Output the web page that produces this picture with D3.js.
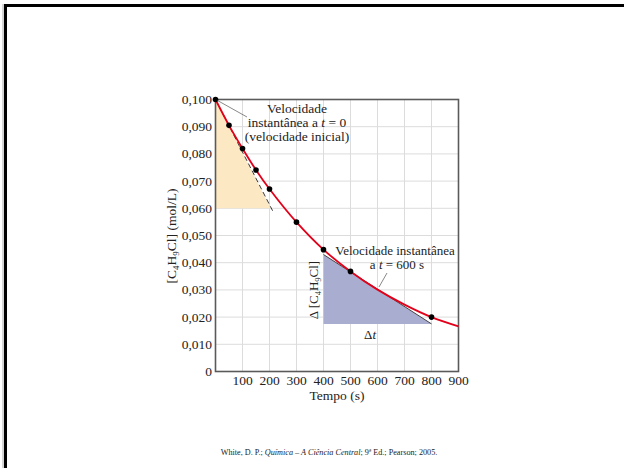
<!DOCTYPE html>
<html>
<head>
<meta charset="utf-8">
<script src="https://cdn.jsdelivr.net/npm/d3@7"></script>
<style>
  body { margin: 0; background: #fff; }
  svg { display: block; font-family: "Liberation Serif", "DejaVu Serif", serif; }
</style>
</head>
<body>
<div id="chart"></div>
<script>
//====================== Data ======================
// measured points (s, mol/L)
const times = [0, 50, 100, 150, 200, 300, 400, 500, 800];
const concs = [0.1000, 0.0905, 0.0820, 0.0741, 0.0671, 0.0549, 0.0448, 0.0368, 0.0200];

// fitted red curve
const curveTimes = [0, 50, 100, 150, 200, 300, 400, 500, 600, 700, 800, 900];
const curveConcs = [0.1000, 0.0905, 0.0820, 0.0741, 0.0671, 0.0549, 0.0448, 0.0368, 0.0301, 0.0246, 0.0200, 0.0166];

// tangent triangles [t, c]
const tangent0 = [[0, 0.1000], [0, 0.0600], [204, 0.0600]];
const tangent0Line = [[0, 0.1000], [212, 0.0590]];
const tangent600 = [[400, 0.0430], [400, 0.0175], [800, 0.0175]];
const tangent600Line = [[400, 0.0430], [800, 0.0175]];

const xTicks = [100, 200, 300, 400, 500, 600, 700, 800, 900];
const yTicks = [0, 0.01, 0.02, 0.03, 0.04, 0.05, 0.06, 0.07, 0.08, 0.09, 0.1];
const xGrid = [100, 200, 300, 400, 500, 600, 700, 800];

//====================== Chart ======================
const w = 624, h = 468;

const svg = d3.select("#chart").append("svg")
  .attr("width", w)
  .attr("height", h);

// slide frame
svg.append("line").attr("x1", 3).attr("y1", 4).attr("x2", 3).attr("y2", h)
  .attr("stroke", "#aaa").attr("stroke-width", 1);
svg.append("path")
  .attr("d", "M5.5," + h + " V5.5 H" + w)
  .attr("fill", "none").attr("stroke", "#000").attr("stroke-width", 3);

const x = d3.scaleLinear().domain([0, 900]).range([215.5, 458.5]);
const y = d3.scaleLinear().domain([0, 0.1]).range([371.5, 99.5]);

// grid
svg.append("g").selectAll("line").data(xGrid).join("line")
  .attr("x1", d => x(d)).attr("x2", d => x(d))
  .attr("y1", y(0)).attr("y2", y(0.1))
  .attr("stroke", "#dcdcdc").attr("stroke-width", 1);
svg.append("g").selectAll("line").data(yTicks.slice(1, -1)).join("line")
  .attr("x1", x(0)).attr("x2", x(900))
  .attr("y1", d => y(d)).attr("y2", d => y(d))
  .attr("stroke", "#dcdcdc").attr("stroke-width", 1);

const line = d3.line().x(d => x(d[0])).y(d => y(d[1]));

// shaded triangles
svg.append("path").attr("d", line(tangent0) + "Z").attr("fill", "#fce8c2");
svg.append("path").attr("d", line(tangent600) + "Z").attr("fill", "#a9aed0");

// tangent lines
svg.append("path").attr("d", line(tangent0Line))
  .attr("stroke", "#222").attr("stroke-width", 0.9)
  .attr("stroke-dasharray", "5,3").attr("fill", "none");
svg.append("path").attr("d", line(tangent600Line))
  .attr("stroke", "#444").attr("stroke-width", 1).attr("fill", "none");

// axes box
svg.append("rect")
  .attr("x", x(0)).attr("y", y(0.1))
  .attr("width", x(900) - x(0)).attr("height", y(0) - y(0.1))
  .attr("fill", "none").attr("stroke", "#5a5a5a").attr("stroke-width", 1.6);

// red curve
const curvePts = curveTimes.map((t, i) => [t, curveConcs[i]]);
svg.append("path")
  .attr("d", d3.line().x(d => x(d[0])).y(d => y(d[1])).curve(d3.curveCatmullRom)(curvePts))
  .attr("fill", "none").attr("stroke", "#e2001a").attr("stroke-width", 1.8);

// data points
svg.append("g").selectAll("circle").data(times).join("circle")
  .attr("cx", d => x(d))
  .attr("cy", (d, i) => y(concs[i]))
  .attr("r", 2.8)
  .attr("fill", "#000");

// tick labels
const fmt = d => d === 0 ? "0" : d.toFixed(3).replace(".", ",");
svg.append("g").selectAll("text").data(yTicks).join("text")
  .attr("x", 212).attr("y", d => y(d) + 4.5)
  .attr("text-anchor", "end")
  .attr("font-size", 13.5)
  .attr("fill", "#222")
  .text(fmt);
svg.append("g").selectAll("text").data(xTicks).join("text")
  .attr("x", d => x(d)).attr("y", 385)
  .attr("text-anchor", "middle")
  .attr("font-size", 13.5)
  .attr("fill", "#222")
  .text(d => d);

// axis titles
svg.append("text").attr("x", 337).attr("y", 400)
  .attr("text-anchor", "middle").attr("font-size", 13.5).attr("fill", "#222")
  .text("Tempo (s)");

const yTitle = svg.append("text")
  .attr("transform", "translate(176,236) rotate(-90)")
  .attr("text-anchor", "middle").attr("font-size", 13.5).attr("fill", "#222");
yTitle.append("tspan").text("[C");
yTitle.append("tspan").attr("font-size", 9).attr("dy", 3).text("4");
yTitle.append("tspan").attr("dy", -3).text("H");
yTitle.append("tspan").attr("font-size", 9).attr("dy", 3).text("9");
yTitle.append("tspan").attr("dy", -3).text("Cl] (mol/L)");

// annotation at t = 0
const ann1 = svg.append("g").attr("font-size", 13.5).attr("fill", "#222").attr("text-anchor", "middle");
ann1.append("text").attr("x", 297).attr("y", 113).text("Velocidade");
const a1 = ann1.append("text").attr("x", 297).attr("y", 127);
a1.append("tspan").text("instantânea a ");
a1.append("tspan").attr("font-style", "italic").text("t");
a1.append("tspan").text(" = 0");
ann1.append("text").attr("x", 297).attr("y", 141).text("(velocidade inicial)");
svg.append("line").attr("x1", x(0) + 2).attr("y1", y(0.1) + 1)
  .attr("x2", 247).attr("y2", 117)
  .attr("stroke", "#555").attr("stroke-width", 0.7);

// annotation at t = 600
const ann2 = svg.append("g").attr("font-size", 13).attr("fill", "#222").attr("text-anchor", "middle");
ann2.append("text").attr("x", 395).attr("y", 255).text("Velocidade instantânea");
const a2 = ann2.append("text").attr("x", 397).attr("y", 269);
a2.append("tspan").text("a ");
a2.append("tspan").attr("font-style", "italic").text("t");
a2.append("tspan").text(" = 600 s");
svg.append("line").attr("x1", 387).attr("y1", 273)
  .attr("x2", 379).attr("y2", 287)
  .attr("stroke", "#555").attr("stroke-width", 0.7);

// delta labels
const dLab = svg.append("text")
  .attr("transform", "translate(318,290) rotate(-90)")
  .attr("text-anchor", "middle").attr("font-size", 13).attr("fill", "#222");
dLab.append("tspan").text("Δ [C");
dLab.append("tspan").attr("font-size", 8.5).attr("dy", 3).text("4");
dLab.append("tspan").attr("dy", -3).text("H");
dLab.append("tspan").attr("font-size", 8.5).attr("dy", 3).text("9");
dLab.append("tspan").attr("dy", -3).text("Cl]");

const dt = svg.append("text").attr("x", 370).attr("y", 339)
  .attr("text-anchor", "middle").attr("font-size", 13).attr("fill", "#222");
dt.append("tspan").text("Δ");
dt.append("tspan").attr("font-style", "italic").text("t");

// source line
const src = svg.append("text").attr("x", 329).attr("y", 455)
  .attr("text-anchor", "middle").attr("font-size", 8.2).attr("fill", "#222");
src.append("tspan").text("White, D. P.; ");
src.append("tspan").attr("font-style", "italic").text("Química – A Ciência Central");
src.append("tspan").text("; 9ª Ed.; Pearson; 2005.");
</script>
</body>
</html>
